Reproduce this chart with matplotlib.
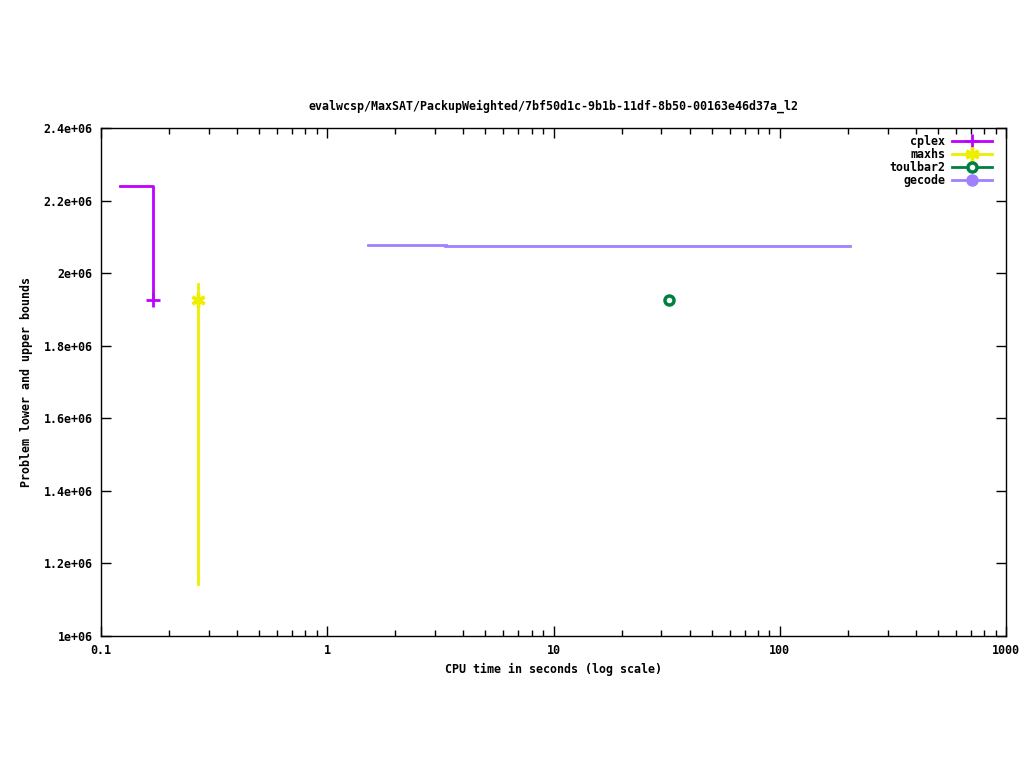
import matplotlib.pyplot as plt
from matplotlib.ticker import FixedLocator, LogLocator, NullFormatter

# Data (time in seconds, bound values)
cplex_t = [0.121, 0.170, 0.170]
cplex_v = [2.240e6, 2.240e6, 1.926e6]
cplex_opt = (0.170, 1.926e6)

maxhs_t = [0.2686, 0.2686]
maxhs_v = [1.970e6, 1.143e6]
maxhs_opt = (0.2686, 1.926e6)

toulbar2_opt = (32.4, 1.926e6)

gecode_t1 = [1.51, 3.35]
gecode_v1 = [2.0776e6, 2.0776e6]
gecode_t2 = [3.30, 204.0]
gecode_v2 = [2.0748e6, 2.0748e6]

yticks = [1.0e6, 1.2e6, 1.4e6, 1.6e6, 1.8e6, 2.0e6, 2.2e6, 2.4e6]
xticks = [0.1, 1, 10, 100, 1000]
xticklabels = ["0.1", "1", "10", "100", "1000"]

c_cplex = "#c000ff"
c_maxhs = "#eeee00"
c_toul = "#008040"
c_gec = "#a080ff"

fs = 8.4
plt.rcParams["font.family"] = "DejaVu Sans Mono"
plt.rcParams["font.weight"] = "bold"
plt.rcParams["axes.titleweight"] = "bold"
plt.rcParams["axes.labelweight"] = "bold"
plt.rcParams["font.size"] = fs

fig = plt.figure(figsize=(10.24, 7.68), dpi=100)
ax = fig.add_axes([101 / 1024, 1 - 636 / 768, 905 / 1024, 508 / 768])

lw = 2
plus = dict(marker="+", ms=10, mew=2)
star = dict(marker=(6, 2, 0), ms=10, mew=2.5)
ring = dict(marker="o", ms=6.5, mew=2.5, mfc="white")
dot = dict(marker="o", ms=8)

ax.plot(cplex_t, cplex_v, color=c_cplex, lw=lw)
ax.plot(*cplex_opt, color=c_cplex, ls="none", **plus)
ax.plot(maxhs_t, maxhs_v, color=c_maxhs, lw=lw)
ax.plot(*maxhs_opt, color=c_maxhs, ls="none", **star)
ax.plot(*toulbar2_opt, color=c_toul, ls="none", **ring)
ax.plot(gecode_t1, gecode_v1, color=c_gec, lw=lw)
ax.plot(gecode_t2, gecode_v2, color=c_gec, lw=lw)

# legend handles
ax.plot([], [], color=c_cplex, lw=lw, label="cplex", **plus)
ax.plot([], [], color=c_maxhs, lw=lw, label="maxhs", **star)
ax.plot([], [], color=c_toul, lw=lw, label="toulbar2", **ring)
ax.plot([], [], color=c_gec, lw=lw, label="gecode", **dot)
ax.legend(loc="upper right", bbox_to_anchor=(1 - 7 / 905, 1),
          frameon=False, markerfirst=False, numpoints=1,
          handlelength=3.4, labelspacing=0.0, handletextpad=0.6,
          borderaxespad=0, borderpad=0.6, fontsize=fs)

ax.set_xscale("log")
ax.set_xlim(0.1, 1000)
ax.set_ylim(1.0e6, 2.4e6)
ax.xaxis.set_major_locator(FixedLocator(xticks))
ax.set_xticklabels(xticklabels)
ax.xaxis.set_minor_locator(LogLocator(base=10, subs=range(2, 10)))
ax.xaxis.set_minor_formatter(NullFormatter())
ax.set_yticks(yticks)
ax.set_yticklabels([f"{v:g}" for v in yticks])
ax.tick_params(which="both", direction="in", top=True, right=True, width=1)
ax.tick_params(which="major", length=7, pad=6)
ax.tick_params(which="minor", length=4)
for s in ax.spines.values():
    s.set_linewidth(1)

ax.set_title("evalwcsp/MaxSAT/PackupWeighted/7bf50d1c-9b1b-11df-8b50-00163e46d37a_l2",
             fontsize=fs, pad=13)
ax.set_xlabel("CPU time in seconds (log scale)", labelpad=4)
ax.set_ylabel("Problem lower and upper bounds", labelpad=8)

fig.savefig("out.png", dpi=100)
